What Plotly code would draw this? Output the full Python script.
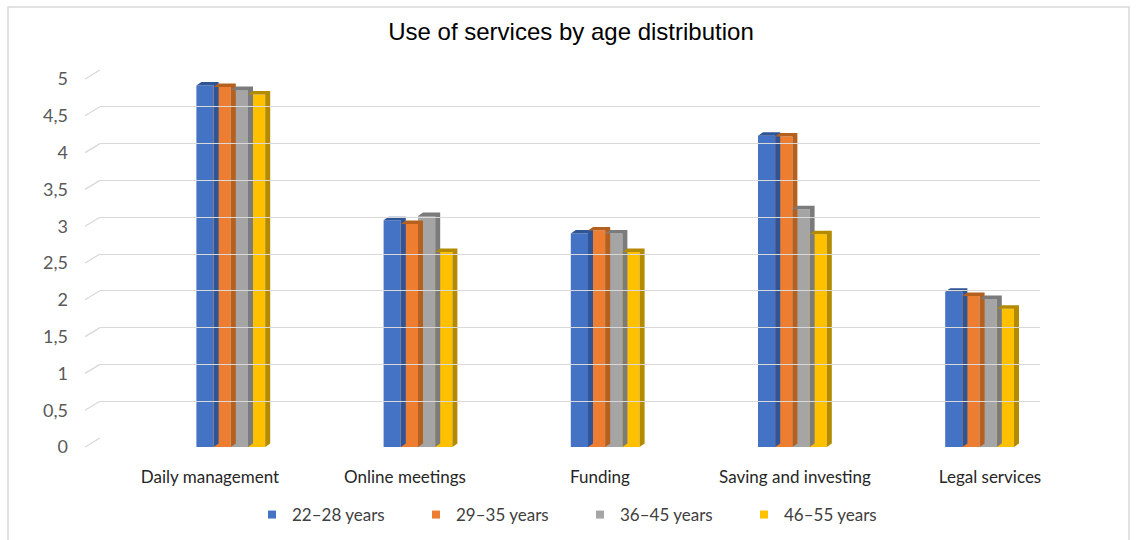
import plotly.graph_objects as go

# ---- data -------------------------------------------------------------
categories = ["Daily management", "Online meetings", "Funding",
              "Saving and investing", "Legal services"]
series_names = ["22\u201328 years", "29\u201335 years", "36\u201345 years", "46\u201355 years"]
age_22_28 = [4.91, 3.08, 2.90, 4.23, 2.11]
age_29_35 = [4.89, 3.03, 2.94, 4.22, 2.05]
age_36_45 = [4.85, 3.14, 2.90, 3.23, 2.01]
age_46_55 = [4.79, 2.65, 2.65, 2.89, 1.88]
tick_values = [0, 0.5, 1, 1.5, 2, 2.5, 3, 3.5, 4, 4.5, 5]
tick_labels = ["0", "0,5", "1", "1,5", "2", "2,5", "3", "3,5", "4", "4,5", "5"]

series_values = [age_22_28, age_29_35, age_36_45, age_46_55]
front_colors = ["#4472C4", "#ED7D31", "#A5A5A5", "#FFC000"]
depth_colors = ["#2F5597", "#B5601F", "#7B7B7B", "#B38A00"]

# ---- geometry (pixels on a 1138x540 canvas) ---------------------------
W, H = 1138, 540


def fx(p):
    return p / W


def fy(p):
    return 1 - p / H


CAT_PX = 187.2          # pixel width of one category on the bar axis
UNIT_PX = 73.6          # pixels per value unit
BAR_W = 17.2 / CAT_PX   # bar width in category units
DX = 5.0 / CAT_PX       # depth offset (x) of the 3-D faces
DY = 3.5 / UNIT_PX      # depth offset (y) of the 3-D faces

bar_dom = [fy(447), fy(447 - 5 * UNIT_PX)]
wall_dom = [fy(438), fy(438 - 5 * UNIT_PX)]

fig = go.Figure()

# ---- bars with simple extruded faces ---------------------------------
for k, (name, vals) in enumerate(zip(series_names, series_values)):
    off = -2 * BAR_W + k * BAR_W
    px, py = [], []
    for i, v in enumerate(vals):
        xl = i + off
        xr = xl + BAR_W
        px += [xl, xl + DX, xr + DX, xr + DX, xr, xr, xl, None]
        py += [v, v + DY, v + DY, DY, 0, v, v, None]
    fig.add_trace(go.Scatter(
        x=px, y=py, mode="lines", fill="toself",
        fillcolor=depth_colors[k], line=dict(width=0, color=depth_colors[k]),
        hoverinfo="skip", showlegend=False, xaxis="x", yaxis="y"))
    fig.add_trace(go.Bar(
        x=list(range(len(categories))), y=vals, width=BAR_W, offset=off,
        marker=dict(color=front_colors[k], line=dict(width=0)),
        name=name, showlegend=False, xaxis="x", yaxis="y"))

# legend entries (small square keys)
for k, name in enumerate(series_names):
    fig.add_trace(go.Scatter(
        x=[None], y=[None], mode="markers", name=name,
        marker=dict(symbol="square", size=8, color=front_colors[k]),
        xaxis="x", yaxis="y"))

# invisible trace that keeps the back-wall subplot alive
fig.add_trace(go.Scatter(x=[None], y=[None], xaxis="x2", yaxis="y2",
                         showlegend=False, hoverinfo="skip"))
# category label axis
fig.add_trace(go.Scatter(x=[None], y=[None], xaxis="x3", yaxis="y",
                         showlegend=False, hoverinfo="skip"))

# ---- perspective floor segments of the gridlines ---------------------
shapes = []
for t in tick_values:
    yf = bar_dom[0] + t / 5 * (bar_dom[1] - bar_dom[0])
    yb = wall_dom[0] + t / 5 * (wall_dom[1] - wall_dom[0])
    shapes.append(dict(type="line", xref="paper", yref="paper",
                       x0=fx(85), y0=yf, x1=fx(100), y1=yb,
                       line=dict(color="#d9d9d9", width=1.3), layer="above"))
# chart frame
shapes.append(dict(type="rect", xref="paper", yref="paper",
                   x0=fx(8), x1=fx(1129), y0=-0.05, y1=fy(7),
                   line=dict(color="#d9d9d9", width=1.5), layer="above"))

fig.update_layout(
    width=W, height=H, autosize=False,
    margin=dict(l=0, r=0, t=0, b=0, pad=0, autoexpand=False),
    paper_bgcolor="white", plot_bgcolor="rgba(0,0,0,0)",
    barmode="overlay",
    showlegend=True,
    shapes=shapes,
    title=dict(text="Use of services by age distribution",
               x=fx(571), y=fy(32), xanchor="center", yanchor="middle",
               font=dict(family="Liberation Sans Narrow, Arial Narrow, Liberation Sans",
                         size=24, color="#000000")),
    xaxis=dict(domain=[fx(230.8 - CAT_PX / 2), fx(230.8 + 4.5 * CAT_PX)],
               range=[-0.5, 4.5], visible=False, anchor="y", fixedrange=True),
    yaxis=dict(domain=bar_dom, range=[0, 5], anchor="free", position=fx(85),
               showgrid=False, zeroline=False, showline=False, ticks="",
               tickvals=tick_values, ticktext=tick_labels,
               ticklabelstandoff=17,
               tickfont=dict(family="Lato", size=18, color="#595959")),
    xaxis2=dict(domain=[fx(100), fx(1040)], range=[0, 1], anchor="y2",
                showgrid=False, zeroline=False, showticklabels=False,
                showline=False, ticks=""),
    yaxis2=dict(domain=wall_dom, range=[0, 5], anchor="x2",
                tickvals=tick_values, showticklabels=False,
                showgrid=True, gridcolor="#d9d9d9", gridwidth=1.3,
                zeroline=False, showline=False, ticks=""),
    xaxis3=dict(domain=[fx(112.5), fx(1087.5)], range=[-0.5, 4.5], anchor="y",
                tickvals=list(range(len(categories))), ticktext=categories,
                showgrid=False, zeroline=False, showline=False, ticks="",
                ticklabelstandoff=18,
                tickfont=dict(family="Lato", size=17, color="#262626")),
    legend=dict(orientation="h", x=fx(252), y=fy(515), xanchor="left",
                yanchor="middle", entrywidth=119, entrywidthmode="pixels",
                font=dict(family="Lato", size=17, color="#404040"),
                bgcolor="rgba(0,0,0,0)"),
)

fig.write_html("out.html")
